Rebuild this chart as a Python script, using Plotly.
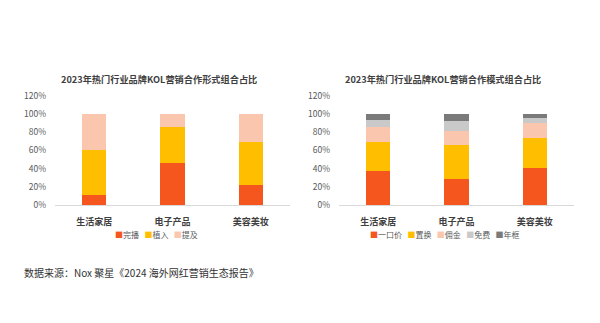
import plotly.graph_objects as go

categories = ["生活家居", "电子产品", "美容美妆"]

# Left chart: 合作形式
form_names = ["完播", "植入", "提及"]
form_wanbo = [0.11, 0.46, 0.22]
form_zhiru = [0.50, 0.40, 0.47]
form_tiji = [0.39, 0.14, 0.31]

# Right chart: 合作模式
mode_names = ["一口价", "置换", "佣金", "免费", "年框"]
mode_price = [0.38, 0.29, 0.41]
mode_swap = [0.31, 0.37, 0.33]
mode_comm = [0.17, 0.15, 0.16]
mode_free = [0.07, 0.11, 0.05]
mode_year = [0.07, 0.08, 0.05]

c_red = "#F5561E"
c_yel = "#FFBF00"
c_peach = "#FAC6AE"
c_lgray = "#C9C9C9"
c_dgray = "#7A7A7A"

font_fam = "Noto Sans CJK SC"

fig = go.Figure()
left_series = [form_wanbo, form_zhiru, form_tiji]
left_colors = [c_red, c_yel, c_peach]
for name, vals, col in zip(form_names, left_series, left_colors):
    fig.add_trace(go.Bar(x=categories, y=vals, name=name, marker_color=col,
                         marker_line_width=0, xaxis="x", yaxis="y", showlegend=False))

right_series = [mode_price, mode_swap, mode_comm, mode_free, mode_year]
right_colors = [c_red, c_yel, c_peach, c_lgray, c_dgray]
for name, vals, col in zip(mode_names, right_series, right_colors):
    fig.add_trace(go.Bar(x=categories, y=vals, name=name, marker_color=col,
                         marker_line_width=0, xaxis="x2", yaxis="y2", showlegend=False))


def legend_text(names, colors):
    parts = []
    for n, c in zip(names, colors):
        parts.append(f"<span style='color:{c}'>■</span>{n}")
    return "&nbsp;&nbsp;&nbsp;".join(parts)


H = 323.0
W = 600.0
ydom = [(H - 206) / H, (H - 92) / H]

yax = dict(range=[0, 1.2], tickvals=[0, 0.2, 0.4, 0.6, 0.8, 1.0, 1.2],
           tickformat=".0%", showgrid=False, zeroline=False, showline=False,
           tickfont=dict(size=8.5, color="#595959", family=font_fam), ticks="",
           ticklabelstandoff=8, domain=ydom, fixedrange=True)
xax = dict(showgrid=False, showline=True, linecolor="#D9D9D9", linewidth=1,
           ticks="", ticklabelstandoff=8,
           tickfont=dict(size=9, color="#404040", family=font_fam, weight="bold"))

fig.update_layout(
    width=600, height=323,
    margin=dict(l=0, r=0, t=0, b=0),
    paper_bgcolor="white", plot_bgcolor="white",
    barmode="stack", bargap=0.69,
    font=dict(family=font_fam),
    showlegend=False,
    xaxis=dict(domain=[55 / W, 290 / W], anchor="y", **xax),
    yaxis=dict(anchor="x", **yax),
    xaxis2=dict(domain=[339 / W, 574 / W], anchor="y2", **xax),
    yaxis2=dict(anchor="x2", **yax),
    annotations=[
        dict(text="2023年热门行业品牌KOL营销合作形式组合占比", x=159 / W, y=(H - 75) / H,
             xref="paper", yref="paper", showarrow=False, xanchor="center", yanchor="middle",
             font=dict(size=9.2, color="#404040", family=font_fam, weight="bold")),
        dict(text="2023年热门行业品牌KOL营销合作模式组合占比", x=443 / W, y=(H - 75) / H,
             xref="paper", yref="paper", showarrow=False, xanchor="center", yanchor="middle",
             font=dict(size=9.2, color="#404040", family=font_fam, weight="bold")),
        dict(text=legend_text(form_names, left_colors), x=156 / W, y=(H - 236) / H,
             xref="paper", yref="paper", showarrow=False, xanchor="center", yanchor="middle",
             font=dict(size=8, color="#595959", family=font_fam)),
        dict(text=legend_text(mode_names, right_colors), x=445 / W, y=(H - 236) / H,
             xref="paper", yref="paper", showarrow=False, xanchor="center", yanchor="middle",
             font=dict(size=8, color="#595959", family=font_fam)),
        dict(text="数据来源：Nox 聚星《2024 海外网红营销生态报告》", x=22 / W, y=(H - 276) / H,
             xref="paper", yref="paper", showarrow=False, xanchor="left", yanchor="middle",
             font=dict(size=10, color="#333333", family=font_fam)),
    ],
)

fig.write_html("out.html")
